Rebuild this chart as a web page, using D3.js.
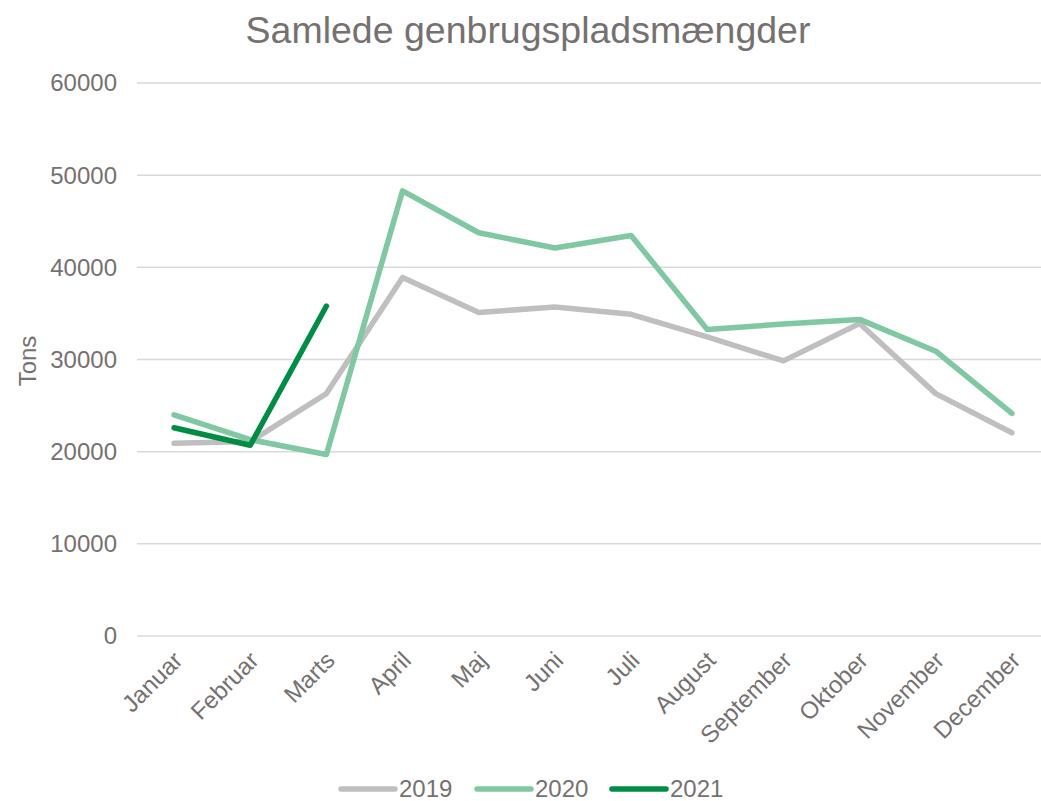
<!DOCTYPE html>
<html>
<head>
<meta charset="utf-8">
<script src="https://cdn.jsdelivr.net/npm/d3@7"></script>
<style>
  body { margin: 0; background: #fff; }
  text { font-family: "Liberation Sans", Arial, sans-serif; fill: #767171; }
</style>
</head>
<body>
<svg id="chart" width="1041" height="801"></svg>
<script>
const months = ["Januar", "Februar", "Marts", "April", "Maj", "Juni", "Juli",
  "August", "September", "Oktober", "November", "December"];
const y2019 = [20900, 21100, 26300, 38900, 35100, 35700, 34900, 32450, 29850, 33900, 26300, 22050];
const y2020 = [24000, 21300, 19700, 48300, 43750, 42100, 43450, 33250, 33850, 34350, 30900, 24150];
const y2021 = [22600, 20700, 35800];
const yTicks = [0, 10000, 20000, 30000, 40000, 50000, 60000];

const series = [
  { name: "2019", values: y2019, color: "#BFBFBF" },
  { name: "2020", values: y2020, color: "#7FC8A1" },
  { name: "2021", values: y2021, color: "#008C45" }
];

const svg = d3.select("#chart");

const x = d3.scalePoint().domain(months).range([136, 1050]).padding(0.5);
const y = d3.scaleLinear().domain([0, 60000]).range([636, 83]);

// title
svg.append("text")
  .attr("x", 528).attr("y", 43)
  .attr("text-anchor", "middle")
  .style("font-size", "37.5px")
  .text("Samlede genbrugspladsmængder");

// gridlines
svg.append("g").selectAll("line")
  .data(yTicks)
  .enter().append("line")
  .attr("x1", 137).attr("x2", 1041)
  .attr("y1", d => y(d)).attr("y2", d => y(d))
  .attr("stroke", "#D9D9D9").attr("stroke-width", 1.5);

// y tick labels
svg.append("g").selectAll("text")
  .data(yTicks)
  .enter().append("text")
  .attr("x", 117).attr("y", d => y(d))
  .attr("dy", "0.35em")
  .attr("text-anchor", "end")
  .style("font-size", "24px")
  .text(d => d);

// y axis title
svg.append("text")
  .attr("transform", "translate(36,361) rotate(-90)")
  .attr("text-anchor", "middle")
  .style("font-size", "24px")
  .text("Tons");

// month labels
svg.append("g").selectAll("text")
  .data(months)
  .enter().append("text")
  .attr("transform", d => `translate(${x(d) - 2},${650}) rotate(-45)`)
  .attr("text-anchor", "end")
  .attr("dy", "0.7em")
  .style("font-size", "24px")
  .text(d => d);

// lines
const line = d3.line()
  .x((d, i) => x(months[i]))
  .y(d => y(d));

svg.append("g").selectAll("path")
  .data(series)
  .enter().append("path")
  .attr("d", d => line(d.values))
  .attr("fill", "none")
  .attr("stroke", d => d.color)
  .attr("stroke-width", 5.5)
  .attr("stroke-linejoin", "round")
  .attr("stroke-linecap", "round");

// legend
const legendX = [341, 477, 612];
const legend = svg.append("g").selectAll("g")
  .data(series)
  .enter().append("g")
  .attr("transform", (d, i) => `translate(${legendX[i]},789)`);

legend.append("line")
  .attr("x1", 0).attr("x2", 54)
  .attr("stroke", d => d.color)
  .attr("stroke-width", 5.5)
  .attr("stroke-linecap", "round");

legend.append("text")
  .attr("x", 58).attr("dy", "0.35em")
  .style("font-size", "24px")
  .text(d => d.name);
</script>
</body>
</html>
